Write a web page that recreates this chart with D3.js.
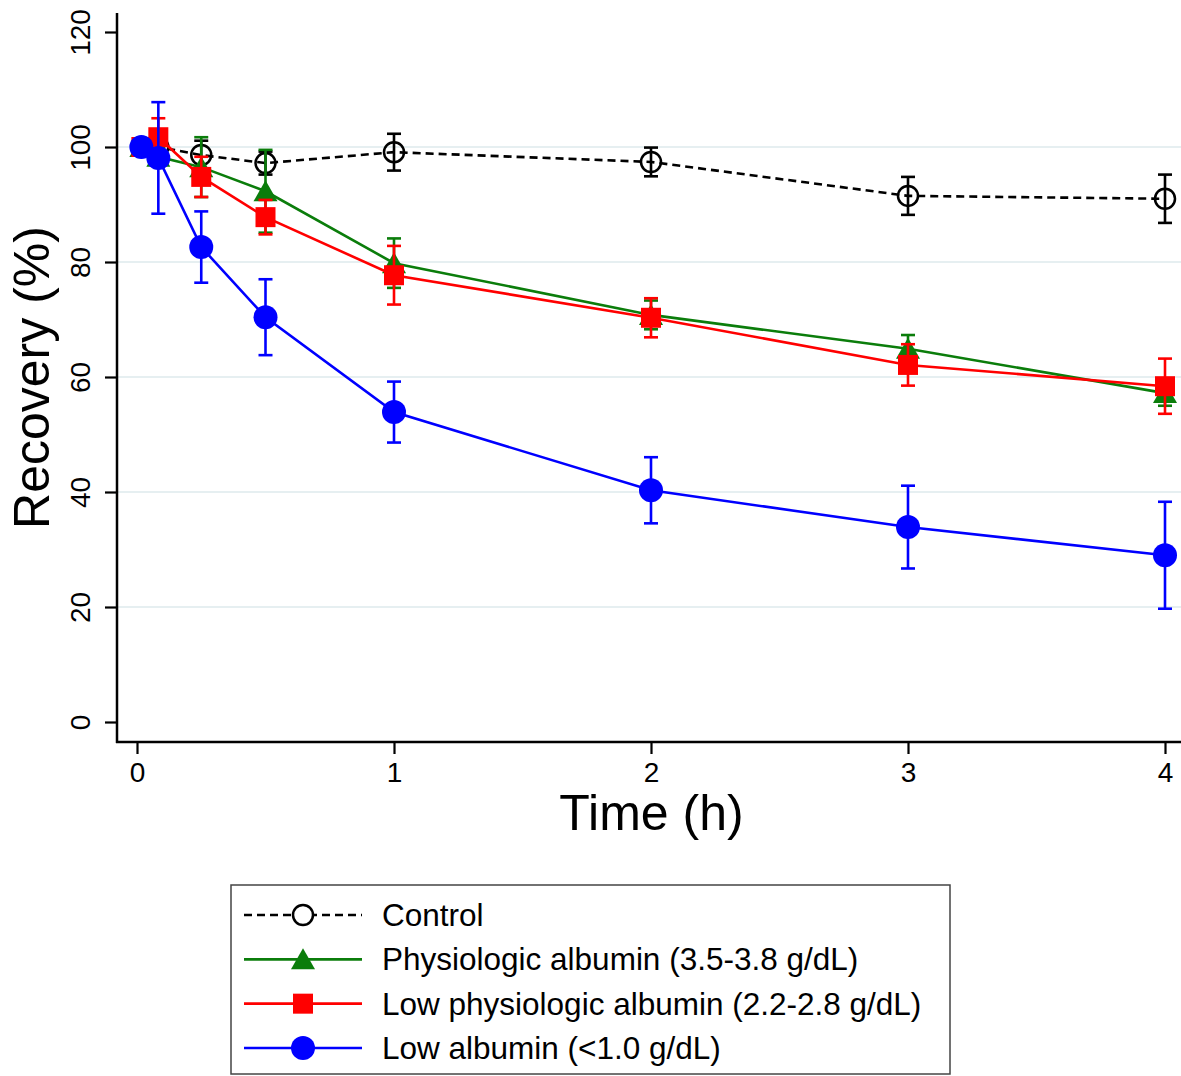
<!DOCTYPE html>
<html>
<head>
<meta charset="utf-8">
<script src="https://cdn.jsdelivr.net/npm/d3@7/dist/d3.min.js"></script>
<style>
  html, body { margin: 0; padding: 0; background: #fff; }
  svg { display: block; font-family: "Liberation Sans", Arial, Helvetica, sans-serif; }
</style>
</head>
<body>
<svg id="chart" width="1181" height="1076"></svg>
<script>
// Sampling times (hours)
const times = [0.017, 0.083, 0.25, 0.5, 1, 2, 3, 4];

// Mean recovery (%) and error (±) per group
const controlMean = [100, 100, 98.6, 97.2, 99.1, 97.4, 91.5, 91.0];
const controlErr  = [0, 1.5, 2.5, 2.0, 3.2, 2.5, 3.3, 4.2];

const physioMean = [100, 98.3, 96.5, 92.3, 79.8, 70.8, 64.9, 57.2];
const physioErr  = [0, 1.5, 5.2, 7.2, 4.3, 2.5, 2.4, 2.2];

const lowPhysioMean = [100, 101.7, 94.8, 87.8, 77.7, 70.3, 62.1, 58.4];
const lowPhysioErr  = [0, 3.3, 3.5, 3.0, 5.1, 3.4, 3.6, 4.8];

const lowAlbMean = [100, 98.1, 82.6, 70.4, 53.9, 40.3, 33.9, 29.0];
const lowAlbErr  = [0, 9.7, 6.2, 6.6, 5.3, 5.75, 7.2, 9.3];

const xTicks = [0, 1, 2, 3, 4];
const yTicks = [0, 20, 40, 60, 80, 100, 120];
const gridValues = [20, 40, 60, 80, 100];

const seriesNames = [
  "Control",
  "Physiologic albumin (3.5-3.8 g/dL)",
  "Low physiologic albumin (2.2-2.8 g/dL)",
  "Low albumin (<1.0 g/dL)"
];

const series = [
  { name: seriesNames[0], mean: controlMean,   err: controlErr,   color: "#000000", marker: "hollowCircle", dash: "8,5" },
  { name: seriesNames[1], mean: physioMean,    err: physioErr,    color: "#0b7d0b", marker: "triangle",     dash: null },
  { name: seriesNames[2], mean: lowPhysioMean, err: lowPhysioErr, color: "#ff0000", marker: "square",       dash: null },
  { name: seriesNames[3], mean: lowAlbMean,    err: lowAlbErr,    color: "#0000ff", marker: "circle",       dash: null }
];

const svg = d3.select("#chart");

const axisLeftX = 117, axisBottomY = 742, axisTopY = 13, axisRightX = 1181;
const x = d3.scaleLinear().domain([0, 4]).range([137, 1165]);
const y = d3.scaleLinear().domain([0, 120]).range([722, 32]);

// Horizontal grid lines
svg.append("g")
  .selectAll("line")
  .data(gridValues)
  .join("line")
  .attr("x1", axisLeftX + 1).attr("x2", axisRightX)
  .attr("y1", d => y(d)).attr("y2", d => y(d))
  .attr("stroke", "#e6eff1")
  .attr("stroke-width", 2.2);

// Y axis
const yAxis = svg.append("g")
  .attr("transform", `translate(${axisLeftX},0)`)
  .call(d3.axisLeft(y).tickValues(yTicks).tickSize(12).tickSizeOuter(0).tickFormat(d3.format("d")));
yAxis.select(".domain").remove();
yAxis.selectAll(".tick line").attr("stroke", "#000").attr("stroke-width", 2.2);
yAxis.selectAll(".tick text")
  .attr("font-size", 28)
  .attr("fill", "#000")
  .attr("text-anchor", "middle")
  .attr("x", null).attr("dy", null)
  .attr("transform", "translate(-27,0) rotate(-90)");
svg.append("line")
  .attr("x1", axisLeftX).attr("x2", axisLeftX)
  .attr("y1", axisTopY).attr("y2", axisBottomY + 1)
  .attr("stroke", "#000").attr("stroke-width", 2.5);

// X axis
const xAxis = svg.append("g")
  .attr("transform", `translate(0,${axisBottomY})`)
  .call(d3.axisBottom(x).tickValues(xTicks).tickSize(12).tickSizeOuter(0).tickFormat(d3.format("d")));
xAxis.select(".domain").remove();
xAxis.selectAll(".tick line").attr("stroke", "#000").attr("stroke-width", 2.2);
xAxis.selectAll(".tick text")
  .attr("font-size", 28)
  .attr("fill", "#000")
  .attr("y", 40).attr("dy", null);
svg.append("line")
  .attr("x1", axisLeftX - 1).attr("x2", axisRightX)
  .attr("y1", axisBottomY).attr("y2", axisBottomY)
  .attr("stroke", "#000").attr("stroke-width", 2.5);

// Axis titles
svg.append("text")
  .attr("transform", `translate(49,${(228 + 527) / 2}) rotate(-90)`)
  .attr("text-anchor", "middle")
  .attr("font-size", 50)
  .attr("fill", "#000")
  .text("Recovery (%)");
svg.append("text")
  .attr("x", (558 + 745) / 2).attr("y", 830)
  .attr("text-anchor", "middle")
  .attr("font-size", 50)
  .attr("fill", "#000")
  .text("Time (h)");

// Marker drawing helper
function drawMarker(g, type, color) {
  if (type === "hollowCircle") {
    g.append("circle").attr("r", 10).attr("fill", "none").attr("stroke", color).attr("stroke-width", 2.5);
  } else if (type === "circle") {
    g.append("circle").attr("r", 12).attr("fill", color);
  } else if (type === "square") {
    g.append("rect").attr("x", -10).attr("y", -10).attr("width", 20).attr("height", 20).attr("fill", color);
  } else if (type === "triangle") {
    g.append("path").attr("d", "M0,-11L12,10L-12,10Z").attr("fill", color);
  }
}

const line = d3.line().x(d => x(d.t)).y(d => y(d.v));
const capHalf = 7;

series.forEach(s => {
  const pts = times.map((t, i) => ({ t, v: s.mean[i], e: s.err[i] }));
  const g = svg.append("g");

  // connecting line
  g.append("path")
    .datum(pts)
    .attr("d", line)
    .attr("fill", "none")
    .attr("stroke", s.color)
    .attr("stroke-width", 2.6)
    .attr("stroke-dasharray", s.dash);

  // error bars
  const eb = g.append("g").selectAll("g").data(pts.filter(p => p.e > 0)).join("g");
  eb.append("line")
    .attr("x1", d => x(d.t)).attr("x2", d => x(d.t))
    .attr("y1", d => y(d.v + d.e)).attr("y2", d => y(d.v - d.e))
    .attr("stroke", s.color).attr("stroke-width", 2.6);
  eb.append("line")
    .attr("x1", d => x(d.t) - capHalf).attr("x2", d => x(d.t) + capHalf)
    .attr("y1", d => y(d.v + d.e)).attr("y2", d => y(d.v + d.e))
    .attr("stroke", s.color).attr("stroke-width", 2.6);
  eb.append("line")
    .attr("x1", d => x(d.t) - capHalf).attr("x2", d => x(d.t) + capHalf)
    .attr("y1", d => y(d.v - d.e)).attr("y2", d => y(d.v - d.e))
    .attr("stroke", s.color).attr("stroke-width", 2.6);

  // markers
  g.append("g").selectAll("g").data(pts).join("g")
    .attr("transform", d => `translate(${x(d.t)},${y(d.v)})`)
    .each(function () { drawMarker(d3.select(this), s.marker, s.color); });
});

// Legend
const legend = svg.append("g");
legend.append("rect")
  .attr("x", 231).attr("y", 885).attr("width", 719).attr("height", 189)
  .attr("fill", "#fff").attr("stroke", "#444").attr("stroke-width", 1.5);

const legendRowY = d3.scalePoint().domain(seriesNames).range([915, 1048]);
series.forEach(s => {
  const ry = legendRowY(s.name);
  const row = legend.append("g");
  row.append("line")
    .attr("x1", 244).attr("x2", 362).attr("y1", ry).attr("y2", ry)
    .attr("stroke", s.color).attr("stroke-width", 2.6)
    .attr("stroke-dasharray", s.dash);
  const m = row.append("g").attr("transform", `translate(303,${ry})`);
  if (s.marker === "hollowCircle") {
    m.append("circle").attr("r", 10).attr("fill", "#fff").attr("stroke", s.color).attr("stroke-width", 2.5);
  } else {
    drawMarker(m, s.marker, s.color);
  }
  row.append("text")
    .attr("x", 382).attr("y", ry + 11)
    .attr("font-size", 31.5)
    .attr("fill", "#000")
    .text(s.name);
});
</script>
</body>
</html>
